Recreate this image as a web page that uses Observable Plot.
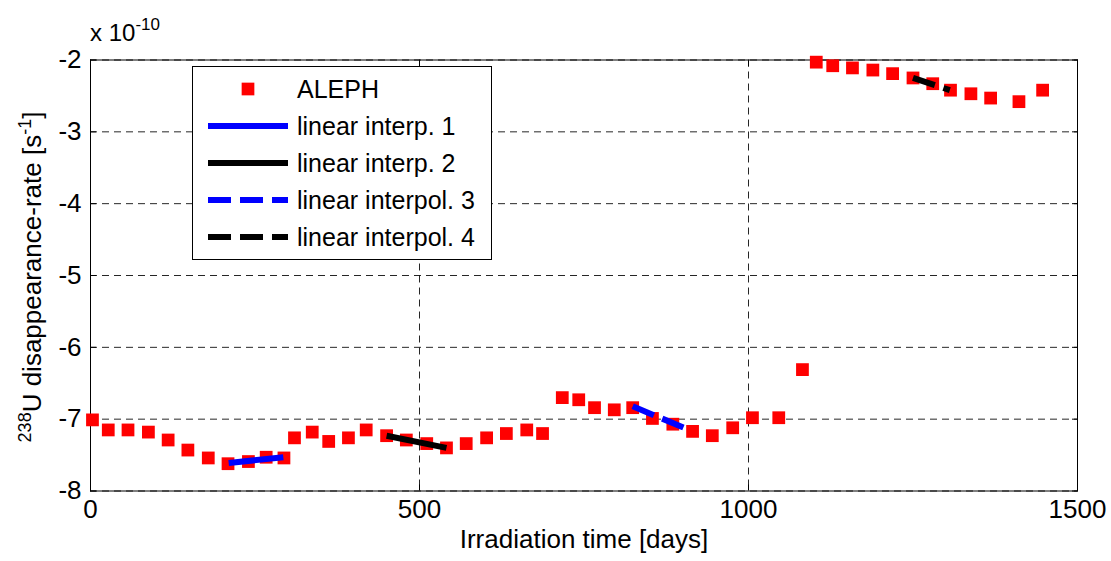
<!DOCTYPE html>
<html>
<head>
<meta charset="utf-8">
<script src="https://cdn.jsdelivr.net/npm/d3@7"></script>
<script src="https://cdn.jsdelivr.net/npm/@observablehq/plot@0.6"></script>
<style>
  html, body { margin: 0; padding: 0; background: #fff; }
  #wrap { position: relative; width: 1111px; height: 561px; font-family: "Liberation Sans", Arial, sans-serif; }
  #legend { position: absolute; left: 192px; top: 66px; }
</style>
</head>
<body>
<div id="wrap"></div>
<script>
// ---- data ----
const xTicks = [0, 500, 1000, 1500];
const yTicks = [-8, -7, -6, -5, -4, -3, -2];

const alephDays = [3,27,57,88,118,148,179,209,240,267,294,310,337,362,392,419,450,480,511,541,571,602,632,663,687,717,742,766,796,824,854,885,915,945,976,1006,1046,1082,1103,1128,1158,1189,1219,1250,1280,1307,1338,1368,1411,1447];
const alephRate = [-7.01,-7.15,-7.15,-7.18,-7.29,-7.43,-7.54,-7.62,-7.59,-7.53,-7.54,-7.26,-7.18,-7.31,-7.26,-7.15,-7.23,-7.29,-7.34,-7.40,-7.34,-7.26,-7.20,-7.15,-7.20,-6.70,-6.73,-6.84,-6.87,-6.84,-6.99,-7.07,-7.17,-7.23,-7.12,-6.98,-6.98,-6.31,-2.03,-2.08,-2.11,-2.14,-2.19,-2.25,-2.33,-2.42,-2.47,-2.53,-2.58,-2.42];

const interp1Days = [210, 293], interp1Rate = [-7.61, -7.53];
const interp2Days = [450, 541], interp2Rate = [-7.23, -7.40];
const interp3Days = [824, 902], interp3Rate = [-6.82, -7.12];
const interp4Days = [1250, 1306], interp4Rate = [-2.25, -2.42];

const seriesNames = ["ALEPH", "linear interp. 1", "linear interp. 2", "linear interpol. 3", "linear interpol. 4"];

const xLabel = "Irradiation time [days]";

// ---- build tables ----
const zip = (xs, ys) => xs.map((x, i) => ({day: x, rate: ys[i]}));
const aleph = zip(alephDays, alephRate);
const l1 = zip(interp1Days, interp1Rate);
const l2 = zip(interp2Days, interp2Rate);
const l3 = zip(interp3Days, interp3Rate);
const l4 = zip(interp4Days, interp4Rate);

const FONT = "'Liberation Sans', Arial, sans-serif";
const gridStyle = {stroke: "#000", strokeOpacity: 0.85, strokeWidth: 1, strokeDasharray: "7,5"};
const blank = () => "";
const plain = d => String(d);

const chart = Plot.plot({
  width: 1111,
  height: 561,
  marginLeft: 90,
  marginRight: 34,
  marginTop: 59.5,
  marginBottom: 70.5,
  style: {fontFamily: FONT, fontSize: "25px", color: "#000", background: "#fff", overflow: "visible"},
  x: {domain: [0, 1500], label: null},
  y: {domain: [-8, -2], label: null},
  marks: [
    Plot.gridX(xTicks, gridStyle),
    Plot.gridY(yTicks, gridStyle),
    Plot.frame({stroke: "#000", strokeWidth: 1}),
    Plot.axisX(xTicks, {anchor: "bottom", tickSize: 0, tickPadding: 9, tickFormat: plain, label: null, fontSize: 26}),
    Plot.axisX(xTicks, {anchor: "bottom", tickSize: 6, dy: -6, tickFormat: blank, label: null}),
    Plot.axisX(xTicks, {anchor: "top", tickSize: 6, dy: 6, tickFormat: blank, label: null}),
    Plot.axisY(yTicks, {anchor: "left", tickSize: 0, tickPadding: 9, tickFormat: plain, label: null, fontSize: 26}),
    Plot.axisY(yTicks, {anchor: "left", tickSize: 6, dx: 6, tickFormat: blank, label: null}),
    Plot.axisY(yTicks, {anchor: "right", tickSize: 6, dx: -6, tickFormat: blank, label: null}),
    Plot.dot(aleph, {x: "day", y: "rate", symbol: "square", r: 7.2, fill: "#ff0000", stroke: null}),
    Plot.line(l1, {x: "day", y: "rate", stroke: "#0000ff", strokeWidth: 6, strokeLinecap: "butt"}),
    Plot.line(l2, {x: "day", y: "rate", stroke: "#000000", strokeWidth: 6, strokeLinecap: "butt"}),
    Plot.line(l3, {x: "day", y: "rate", stroke: "#0000ff", strokeWidth: 6, strokeLinecap: "butt", strokeDasharray: "23,9"}),
    Plot.line(l4, {x: "day", y: "rate", stroke: "#000000", strokeWidth: 6, strokeLinecap: "butt", strokeDasharray: "23,9"}),
    Plot.text([xLabel], {frameAnchor: "bottom", dy: 57, text: d => d, fontSize: 26, fill: "#000"})
  ]
});

const svg = d3.select(chart);

// y-axis label with superscripts
const yl = svg.append("text")
  .attr("transform", "translate(41,277) rotate(-90)")
  .attr("text-anchor", "middle")
  .attr("font-family", FONT)
  .attr("font-size", 26)
  .attr("fill", "#000");
yl.append("tspan").attr("font-size", 18).attr("dy", -10).text("238");
yl.append("tspan").attr("dy", 10).text("U disappearance-rate [s");
yl.append("tspan").attr("font-size", 18).attr("dy", -10).text("-1");
yl.append("tspan").attr("dy", 10).text("]");

// exponent note
const ex = svg.append("text")
  .attr("x", 90).attr("y", 41)
  .attr("text-anchor", "start")
  .attr("font-family", FONT)
  .attr("font-size", 24)
  .attr("fill", "#000");
ex.append("tspan").text("x 10");
ex.append("tspan").attr("font-size", 17).attr("dy", -11).text("-10");

const wrap = document.getElementById("wrap");
wrap.appendChild(chart);

// legend (inside the axes, drawn as its own small svg)
const LW = 300, LH = 194;
const lg = d3.create("svg").attr("id", "legend").attr("width", LW).attr("height", LH)
  .style("position", "absolute").style("left", "192px").style("top", "66px");
lg.append("rect").attr("x", 0.5).attr("y", 0.5).attr("width", LW - 1).attr("height", LH - 1)
  .attr("fill", "#fff").attr("stroke", "#000").attr("stroke-width", 1);
const rowY = i => 23 + i * 37;
const styles = [
  {kind: "dot"},
  {kind: "line", stroke: "#0000ff", dash: null},
  {kind: "line", stroke: "#000000", dash: null},
  {kind: "line", stroke: "#0000ff", dash: "23,9"},
  {kind: "line", stroke: "#000000", dash: "23,9"}
];
seriesNames.forEach((name, i) => {
  const s = styles[i];
  const y = rowY(i);
  if (s.kind === "dot") {
    lg.append("rect").attr("x", 56 - 6.35).attr("y", y - 6.35).attr("width", 12.7).attr("height", 12.7).attr("fill", "#ff0000");
  } else {
    const ln = lg.append("line").attr("x1", 16).attr("x2", 96).attr("y1", y).attr("y2", y)
      .attr("stroke", s.stroke).attr("stroke-width", 6);
    if (s.dash) ln.attr("stroke-dasharray", s.dash);
  }
  lg.append("text").attr("x", 105).attr("y", y).attr("dy", "0.35em")
    .attr("font-family", FONT).attr("font-size", 25).attr("fill", "#000").text(name);
});
wrap.appendChild(lg.node());
</script>
</body>
</html>
